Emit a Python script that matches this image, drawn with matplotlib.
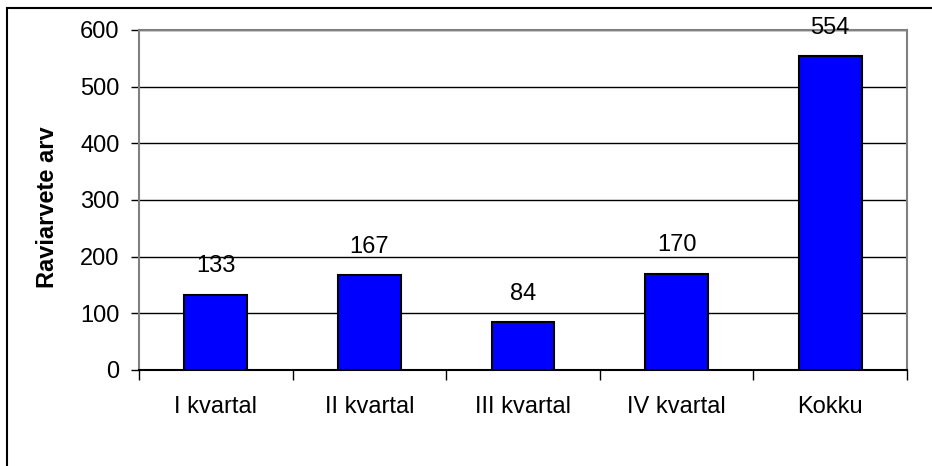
import matplotlib.pyplot as plt
from matplotlib.patches import Rectangle

plt.rcParams['font.family'] = ['Liberation Sans', 'DejaVu Sans']

categories = ['I kvartal', 'II kvartal', 'III kvartal', 'IV kvartal', 'Kokku']
counts = [133, 167, 84, 170, 554]
y_ticks = [0, 100, 200, 300, 400, 500, 600]

fig = plt.figure(figsize=(9.32, 4.66), dpi=100)
W, H = 932, 466
ax = fig.add_axes([139 / W, 1 - 370 / H, (907 - 139) / W, (370 - 30) / H])

x = list(range(len(categories)))
ax.bar(x, counts, width=0.41, color='#0000FF', edgecolor='black', linewidth=1.5, zorder=3)
for xi, v in zip(x, counts):
    ax.text(xi, v + 31, str(v), ha='center', va='bottom', fontsize=17, zorder=4)

ax.set_xlim(-0.5, len(categories) - 0.5)
ax.set_ylim(0, 600)
ax.set_yticks(y_ticks)
ax.yaxis.grid(True, color='black', linewidth=1)
ax.set_axisbelow(True)

# category labels sit between the boundary ticks
ax.set_xticks([i - 0.5 for i in range(len(categories) + 1)])
ax.set_xticklabels([])
ax.set_xticks(x, minor=True)
ax.set_xticklabels(categories, minor=True, fontsize=17)
ax.tick_params(axis='x', which='major', length=7, width=1, direction='out')
ax.tick_params(axis='x', which='minor', length=0, pad=19)
ax.tick_params(axis='y', length=6, width=1, labelsize=17, pad=8)

for side in ['top', 'right', 'left']:
    ax.spines[side].set_color('#808080')
    ax.spines[side].set_linewidth(1.5)
ax.spines['bottom'].set_color('black')
ax.spines['bottom'].set_linewidth(1.5)

ax.set_ylabel('Raviarvete arv', fontsize=17, fontweight='bold', labelpad=15)
ax.yaxis.label.set_y(0.48)

# outer chart frame, only left and top edges show in the reference
fig.patches.append(Rectangle((7 / W, -0.1), 1.2, 1 - 8 / H + 0.1, transform=fig.transFigure,
                             fill=False, edgecolor='black', linewidth=1.5))

fig.savefig('out.png', dpi=100)
